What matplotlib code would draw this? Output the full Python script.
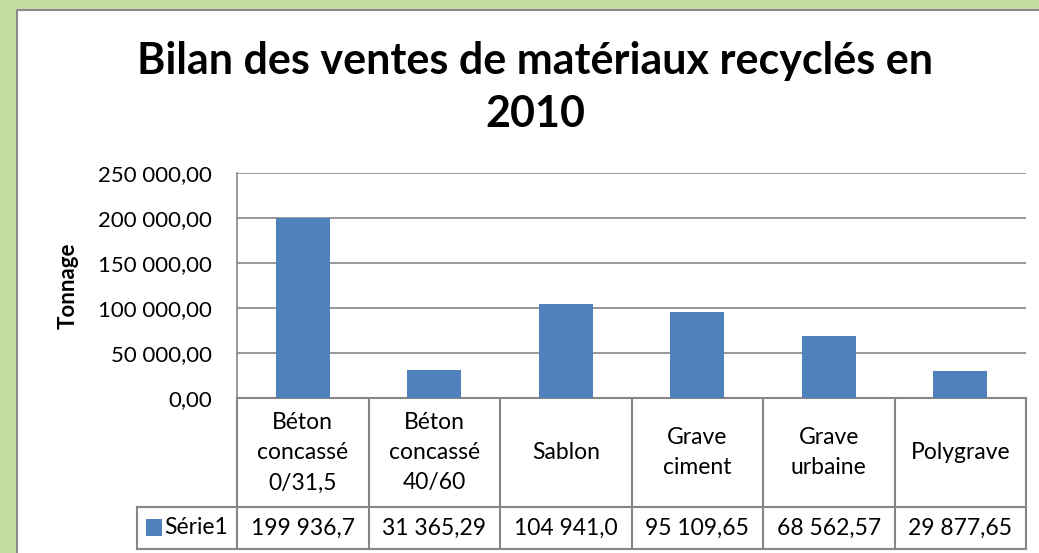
import matplotlib.pyplot as plt
from matplotlib.patches import Rectangle
from matplotlib.ticker import FuncFormatter
from matplotlib.transforms import blended_transform_factory

# data
categories = ["Béton\nconcassé\n0/31,5", "Béton\nconcassé\n40/60", "Sablon",
              "Grave\nciment", "Grave\nurbaine", "Polygrave"]
values = [199936.7, 31365.29, 104941.0, 95109.65, 68562.57, 29877.65]
value_labels = ["199 936,7", "31 365,29", "104 941,0", "95 109,65", "68 562,57", "29 877,65"]
series_name = "Série1"

plt.rcParams['font.family'] = ['Lato', 'DejaVu Sans']

W, H = 1039, 553
fig = plt.figure(figsize=(W / 100, H / 100), dpi=100)
fig.patch.set_facecolor('#c3dda1')

# white chart area with grey border (cropped on right/bottom)
fig.patches.append(Rectangle((17 / W, -0.05), 1.2, (H - 10) / H + 0.05,
                             transform=fig.transFigure, facecolor='white',
                             edgecolor='#8a8a8a', linewidth=1.5, zorder=-10))

ax = fig.add_axes([237 / W, (H - 398) / H, (1026 - 237) / W, (398 - 173) / H])
ax.set_facecolor('none')

bar_color = '#4f81bd'
x = list(range(len(categories)))
ax.bar(x, values, width=0.41, color=bar_color, zorder=3)

ax.set_xlim(-0.5, len(categories) - 0.5)
ax.set_ylim(0, 250000)
ax.set_yticks([0, 50000, 100000, 150000, 200000, 250000])
ax.yaxis.set_major_formatter(FuncFormatter(
    lambda v, p: "{:,.2f}".format(v).replace(",", " ").replace(".", ",")))
ax.tick_params(axis='y', length=0, labelsize=16, pad=18)
ax.set_xticks([])
ax.grid(axis='y', color='#868686', linewidth=1.2, zorder=0)
for side in ['top', 'right', 'bottom']:
    ax.spines[side].set_visible(False)
ax.spines['left'].set_color('#868686')
ax.spines['left'].set_linewidth(1.2)

ax.set_ylabel("Tonnage", fontsize=16, fontweight='bold', labelpad=14)

fig.text(0.515, 0.925, "Bilan des ventes de matériaux recyclés en\n2010",
         ha='center', va='top', fontsize=31, fontweight='bold', linespacing=1.38)

# data table under the plot
tr = blended_transform_factory(ax.transData, ax.transAxes)
y_head = -(507 - 398) / 225
y_val = -(549 - 398) / 225
legend_left = -0.5 + (137 - 237) / 131.5
line_kw = dict(color='#868686', linewidth=1.5, transform=tr, clip_on=False)

n = len(categories)
ax.plot([-0.5, n - 0.5], [0, 0], **line_kw)
ax.plot([legend_left, n - 0.5], [y_head, y_head], **line_kw)
ax.plot([legend_left, n - 0.5], [y_val, y_val], **line_kw)
ax.plot([legend_left, legend_left], [y_head, y_val], **line_kw)
for i in range(n + 1):
    ax.plot([i - 0.5, i - 0.5], [0, y_val], **line_kw)

for i, (cat, lab) in enumerate(zip(categories, value_labels)):
    ax.text(i, y_head / 2, cat, transform=tr, ha='center', va='center',
            fontsize=16.5, linespacing=1.55)
    ax.text(i, (y_head + y_val) / 2, lab, transform=tr, ha='center', va='center',
            fontsize=16.5)

ax.add_patch(Rectangle((legend_left + 0.07, (y_head + y_val) / 2 - 0.036), 0.12, 0.075,
                       transform=tr, facecolor=bar_color, clip_on=False))
ax.text(legend_left + 0.21, (y_head + y_val) / 2, series_name, transform=tr,
        ha='left', va='center', fontsize=16.5)

fig.savefig("out.png", dpi=100, facecolor=fig.get_facecolor())
